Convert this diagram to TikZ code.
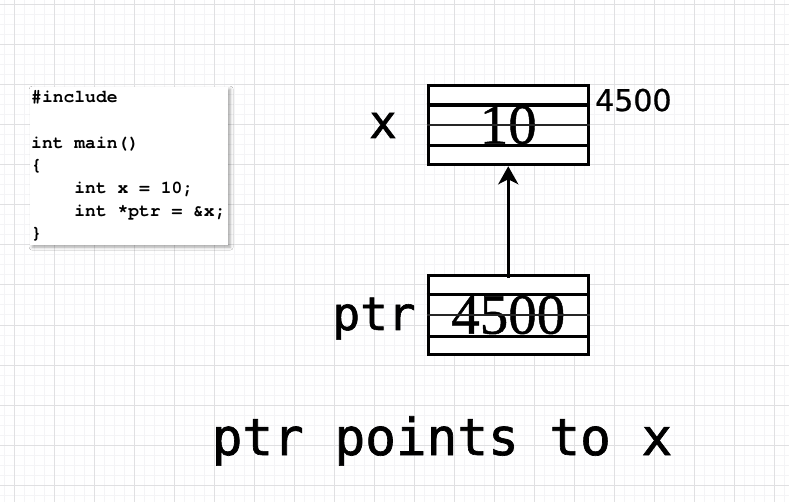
\documentclass[tikz,border=0pt]{standalone}
\usepackage{fontspec}
\usetikzlibrary{arrows.meta,shadows.blur}
\newfontfamily\labelfont{DejaVu Sans Mono}[FakeBold=1.3]
\newfontfamily\addrfont{DejaVu Sans}[FakeBold=0.8]
\newfontfamily\valfont{Liberation Serif}[FakeBold=0.8]
\newfontfamily\codefont{texgyrecursor}[Extension=.otf,UprightFont=*-regular,BoldFont=*-bold]
\newcommand\codespacing{\frenchspacing\spaceskip=0.6em\relax}
\definecolor{gridminor}{HTML}{F4F4F6}
\definecolor{gridmajor}{HTML}{E0E0E2}
\begin{document}
\begin{tikzpicture}[x=1pt,y=-1pt]
			\tikzstyle{cell}=[rectangle,draw=black,line width=3.5pt,fill=white,minimum width=160pt,minimum height=79pt,inner sep=0pt,font=\valfont\fontsize{57}{57}\selectfont]
			\tikzstyle{rowline}=[draw=black,line width=3.5pt]
			\tikzstyle{midline}=[draw=black!85,line width=2.2pt]
			\tikzstyle{varname}=[anchor=base,inner sep=0pt,font=\labelfont\fontsize{46}{46}\selectfont]
			\tikzstyle{pointer}=[draw=black,line width=3.5pt,-{Stealth[length=18pt,width=20pt,inset=5pt]}]
			\useasboundingbox (0,0) rectangle (789,502);
			\fill[white] (0,0) rectangle (789,502);
			% background grid
			\foreach \gx in {4,14,...,784} \draw[gridminor,line width=1pt] (\gx,0) -- (\gx,502);
			\foreach \gy in {5,15,...,495} \draw[gridminor,line width=1pt] (0,\gy) -- (789,\gy);
			\foreach \gx in {14,54,...,774} \draw[gridmajor,line width=1pt] (\gx,0) -- (\gx,502);
			\foreach \gy in {5,45,...,485} \draw[gridmajor,line width=1pt] (0,\gy) -- (789,\gy);

			\node[rectangle,fill=white,anchor=north west,minimum width=198pt,minimum height=158pt,
				text width=196pt,inner sep=1pt,align=left,
				blur shadow={shadow xshift=2pt,shadow yshift=-2pt,shadow blur radius=3pt,shadow opacity=35},
				font=\codefont\bfseries\fontsize{18}{22.7}\selectfont] (code) at (30,87)
				{\codespacing\#include\\[22.7pt]int main()\\\{\\\hspace*{2.4em}int x = 10;\\\hspace*{2.4em}int *ptr = \&x;\\\}};

			\node[cell] (xbox) at (508.25,125) {10};
			\node[cell] (ptrbox) at (508.25,315) {4500};

			\node[varname] (xname) at (383,138) {x};
			\node[varname] (ptrname) at (374,330) {ptr};
			\node[anchor=base west,inner sep=0pt,font=\addrfont\fontsize{30}{30}\selectfont] (xaddr) at (595,111) {4500};
			\node[anchor=base,inner sep=0pt,font=\labelfont\fontsize{51}{51}\selectfont] (caption) at (442,455) {ptr points to x};

			\path
			([yshift=20pt]xbox.west) edge[rowline] ([yshift=20pt]xbox.east)
			(xbox.west) edge[midline] (xbox.east)
			([yshift=-20.5pt]xbox.west) edge[rowline] ([yshift=-20.5pt]xbox.east)
			([yshift=20.5pt]ptrbox.west) edge[rowline] ([yshift=20.5pt]ptrbox.east)
			(ptrbox.west) edge[midline] (ptrbox.east)
			([yshift=-21.5pt]ptrbox.west) edge[rowline] ([yshift=-21.5pt]ptrbox.east)
			;

			\draw[pointer] ([yshift=-4pt]ptrbox.north) -- (xbox.south);
		\end{tikzpicture}
\end{document}
